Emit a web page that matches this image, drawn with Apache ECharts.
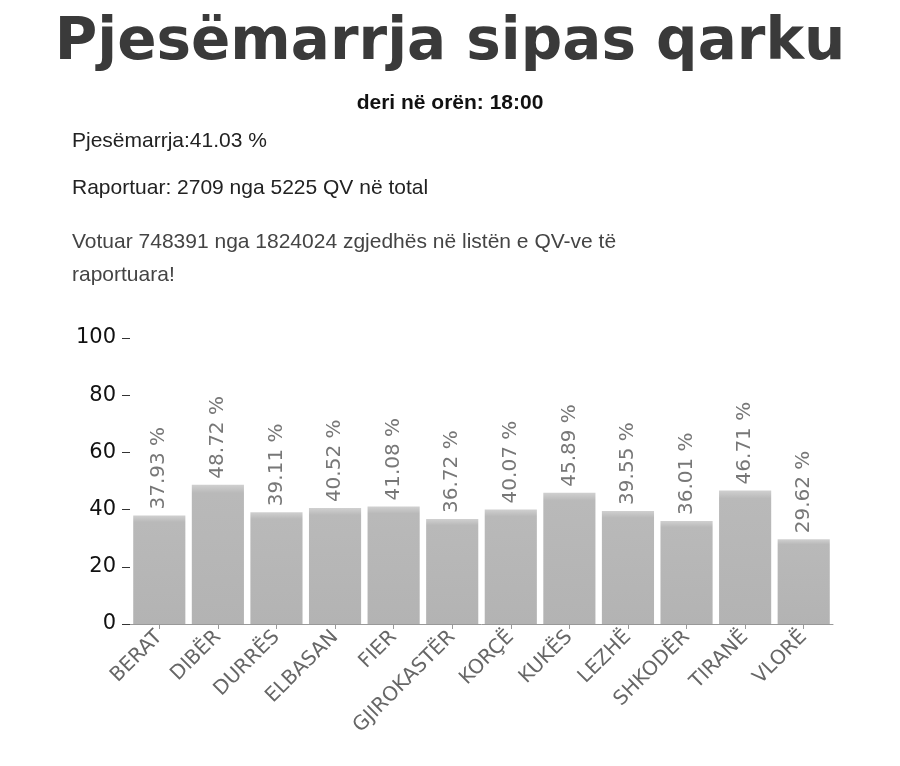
<!DOCTYPE html>
<html><head><meta charset="utf-8">
<script src="https://cdn.jsdelivr.net/npm/echarts@6/dist/echarts.min.js"></script>
<style>body{margin:0;background:#fff}#c{width:900px;height:766px}</style>
</head><body><div id="c"></div>
<script>
const categories = ["BERAT","DIBËR","DURRËS","ELBASAN","FIER","GJIROKASTËR","KORÇË","KUKËS","LEZHË","SHKODËR","TIRANË","VLORË"];
const values = [37.93,48.72,39.11,40.52,41.08,36.72,40.07,45.89,39.55,36.01,46.71,29.62];
const yTicks = [0,20,40,60,80,100];
const chart = echarts.init(document.getElementById('c'));
const st = {fontSize:21, fill:'#222', fontFamily:'Liberation Sans, Arial'};
chart.setOption({
  backgroundColor:'#fff',
  title:{text:'Pjesëmarrja sipas qarku', left:'center', top:10,
    textStyle:{fontSize:58, fontWeight:'bold', color:'#3a3a3a', fontFamily:'DejaVu Sans'},
    subtext:'deri në orën: 18:00', itemGap:20,
    subtextStyle:{fontSize:21, fontWeight:'bold', color:'#111', fontFamily:'Liberation Sans'}},
  graphic:[
    {type:'text', left:72, top:131, style:Object.assign({text:'Pjesëmarrja:41.03 %'}, st)},
    {type:'text', left:72, top:178, style:Object.assign({text:'Raportuar: 2709 nga 5225 QV në total'}, st)},
    {type:'text', left:72, top:226, style:Object.assign({text:'Votuar 748391 nga 1824024 zgjedhës në listën e QV-ve të\nraportuara!', lineHeight:33}, st, {fill:'#444'})}
  ],
  grid:{left:130, right:67, top:338, bottom:142},
  xAxis:{type:'category', data:categories,
    axisLine:{lineStyle:{color:'#999'}}, axisTick:{show:true, alignWithLabel:true, lineStyle:{color:'#999'}},
    axisLabel:{rotate:45, fontSize:20, color:'#666', fontFamily:'DejaVu Sans', interval:0, margin:10}},
  yAxis:{type:'value', min:0, max:100, interval:20,
    axisLine:{show:false}, splitLine:{show:false},
    axisTick:{show:true, length:8, lineStyle:{color:'#333'}},
    axisLabel:{fontSize:21, color:'#111', fontFamily:'DejaVu Sans', margin:14,
      formatter:v=>yTicks.includes(v)?String(v):''}},
  series:[{type:'bar', data:values, barCategoryGap:'11%',
    itemStyle:{color:new echarts.graphic.LinearGradient(0,0,0,1,[{offset:0,color:'#d0d0d0'},{offset:0.06,color:'#b9b9b9'},{offset:1,color:'#b3b3b3'}])},
    label:{show:true, position:'top', rotate:90, align:'left', verticalAlign:'middle', distance:6,
      formatter:p=>p.value.toFixed(2)+' %', fontSize:20, color:'#777', fontFamily:'DejaVu Sans'}}]
});
</script></body></html>
